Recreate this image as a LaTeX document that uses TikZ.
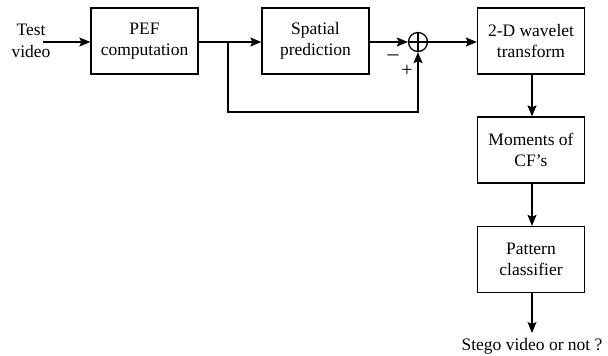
\documentclass[tikz,border=0pt]{standalone}
\usepackage{fontspec}
\setmainfont{Liberation Serif}
\usetikzlibrary{arrows.meta}
\begin{document}
\begin{tikzpicture}[x=1pt,y=-1pt,
  blk/.style={draw,line width=1.3pt,minimum width=107pt,minimum height=66pt,align=center,font=\fontsize{17.5}{21.5}\selectfont,inner sep=0pt},
  lbl/.style={align=center,font=\fontsize{17.5}{21.5}\selectfont,inner sep=0pt},
  arr/.style={line width=1.3pt,-{Stealth[length=11pt,width=9pt,inset=2pt]}},
  ln/.style={line width=1.3pt}]
\useasboundingbox (0,0) rectangle (608,356);
\node[lbl] (in) at (31,41) {Test\\video};
\coordinate (inS) at (43,42);
\node[blk] (pef) at (144.5,41) {PEF\\computation};
\node[blk] (sp) at (315.5,41) {Spatial\\prediction};
\node[draw,circle,line width=1.3pt,minimum size=19pt,inner sep=0pt] (sum) at (418,42) {};
\draw[ln] (sum.north) -- (sum.south) (sum.west) -- (sum.east);
\node[blk] (wt) at (531,41) {2-D wavelet\\transform};
\node[blk] (mo) at (531,150) {Moments of\\CF's};
\node[blk] (pc) at (531,259.5) {Pattern\\classifier};
\node[lbl,anchor=north] (out) at (532,338) {Stego video or not ?};
\coordinate (split) at (228,42);
\coordinate (c1) at (228,112);
\coordinate (c2) at (418,112);
\coordinate (outE) at (532,333);
\draw[arr] (inS) -- (pef.west |- inS);
\draw[arr] (pef.east |- split) -- (sp.west |- split);
\draw[arr] (sp.east |- sum) -- (sum.west);
\draw[arr] (split) -- (c1) -- (c2) -- (sum.south);
\draw[arr] (sum.east) -- (wt.west |- sum);
\draw[arr] (wt.south -| outE) -- (mo.north -| outE);
\draw[arr] (mo.south -| outE) -- (pc.north -| outE);
\draw[arr] (pc.south -| outE) -- (outE);
\node[lbl,anchor=base] (minus) at (393,60) {\fontsize{22}{24}\selectfont –};
\node[lbl] (plus) at (407,71) {\fontsize{20}{24}\selectfont +};
\end{tikzpicture}
\end{document}
